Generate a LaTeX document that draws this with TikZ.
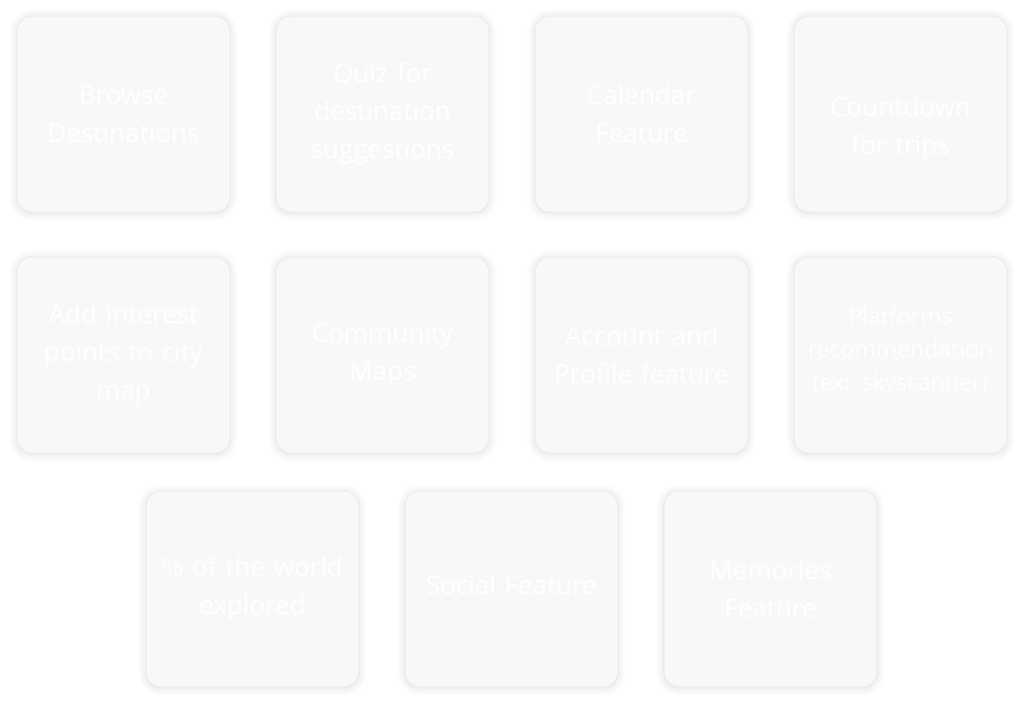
\documentclass[tikz,border=0pt]{standalone}
\usepackage{fontspec}
\setmainfont{Open Sans}
\usepackage{tikz}
\usetikzlibrary{positioning,shadows.blur}
\definecolor{cardfill}{RGB}{248,248,248}
\definecolor{cardline}{RGB}{236,236,236}
\tikzset{
    %Define style for cards
    card/.style={
           rectangle,
           rounded corners=15pt,
           draw=cardline, line width=1pt,
           fill=cardfill,
           minimum width=213pt,
           minimum height=196pt,
           text width=195pt,
           align=center,
           text=white,
           font=\fontsize{26}{38}\selectfont,
           blur shadow={shadow xshift=0pt, shadow yshift=-1pt,
                        shadow blur radius=8pt, shadow opacity=14}
           },
    smallcard/.style={
           card,
           font=\fontsize{23}{33}\selectfont
           }
}
\begin{document}
\begin{tikzpicture}[x=1pt,y=1pt,node distance=45pt and 45pt]
\useasboundingbox (0,0) rectangle (1023,-702);
\node[card](1) at (123.5,-114){Browse\\Destinations};
\node[card, right=of 1](2){Quiz for\\destination\\suggestions};
\node[card, right=of 2](3){Calendar\\Feature};
\node[card, right=of 3](4){\rule{0pt}{50pt}Countdown\\for trips};
\node[card, below=44pt of 1](5){Add interest\\points to city\\map};
\node[card, right=of 5](6){Community\\Maps};
\node[card, right=of 6](7){Account and\\Profile feature};
\node[smallcard, right=of 7](8){Platforms\\recommendation\\(ex: skyscanner)\rule[-12pt]{0pt}{0pt}};
\node[card, below=37pt of 5, xshift=129pt](9){\% of the world\\explored};
\node[card, right=of 9](10){Social Feature\rule[-8pt]{0pt}{0pt}};
\node[card, right=of 10](11){Memories\\Feature};
\end{tikzpicture}
\end{document}
